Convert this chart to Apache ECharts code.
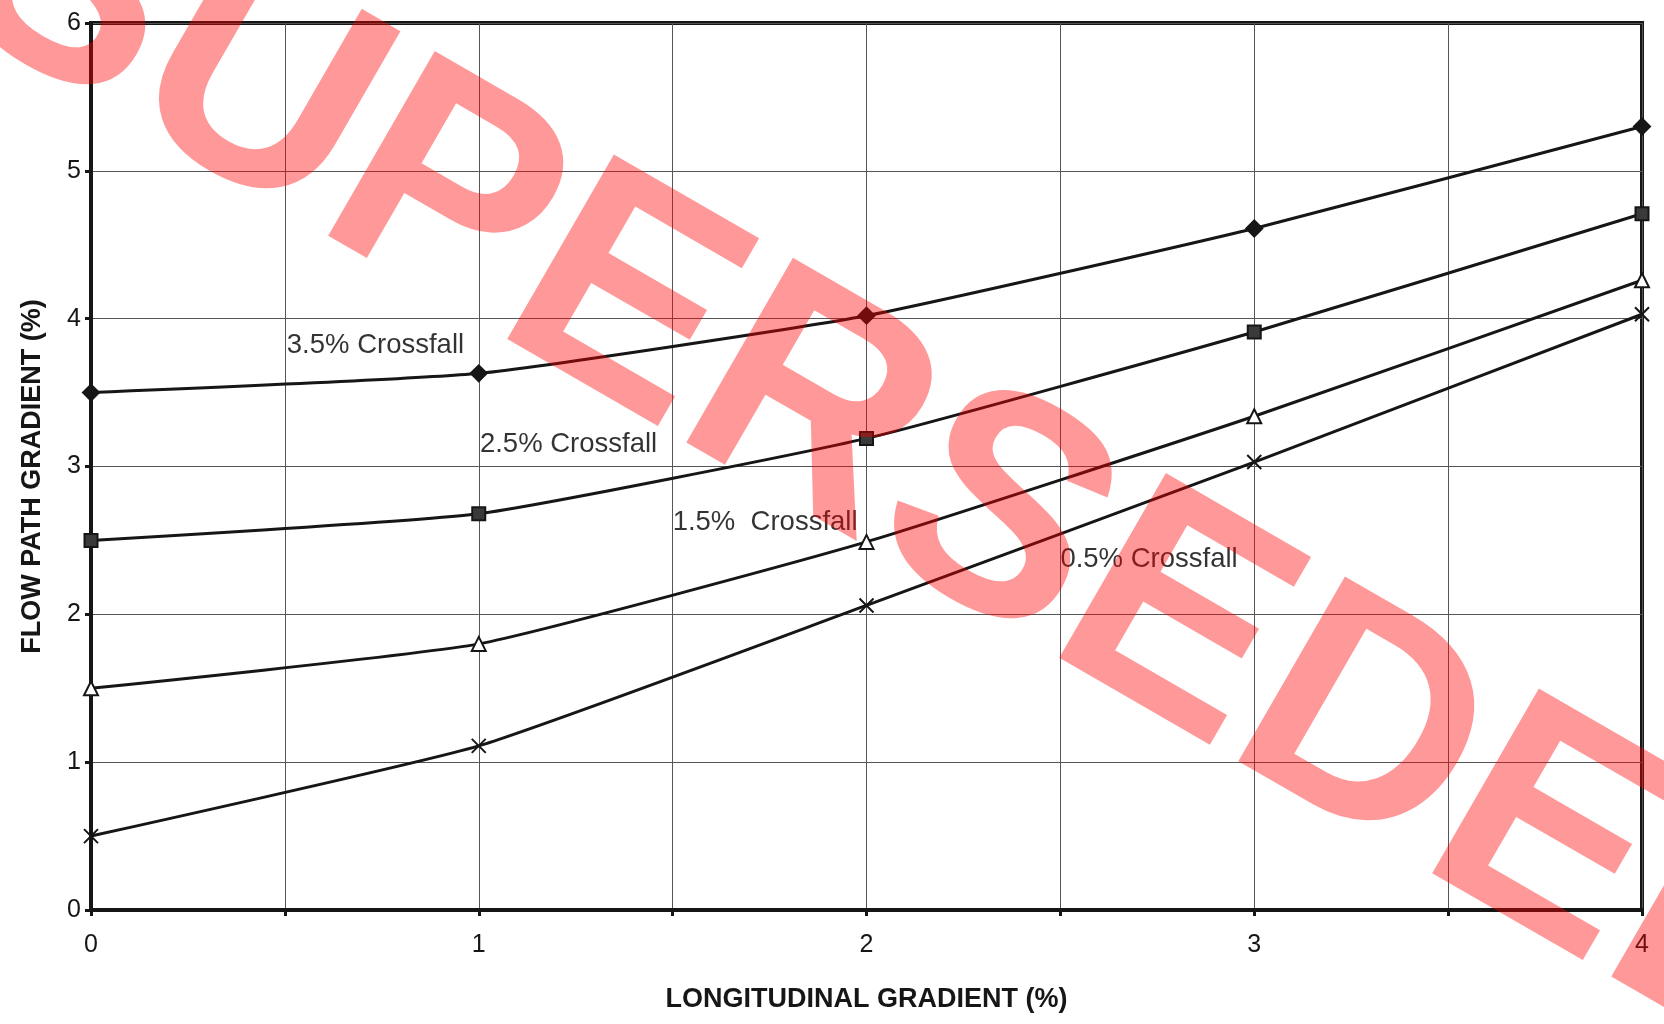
<!DOCTYPE html>
<html>
<head>
<meta charset="utf-8">
<script src="https://cdn.jsdelivr.net/npm/echarts@6/dist/echarts.min.js"></script>
<style>
  html, body { margin: 0; padding: 0; background: #fff; }
  #main { width: 1664px; height: 1024px; }
</style>
</head>
<body>
<div id="main"></div>
<script>
// longitudinal gradient (%)
const xValues = [0, 1, 2, 3, 4]

// flow path gradient (%) per crossfall
const cross35 = [3.50, 3.63, 4.02, 4.61, 5.30]
const cross25 = [2.50, 2.68, 3.19, 3.91, 4.71]
const cross15 = [1.50, 1.80, 2.49, 3.34, 4.26]
const cross05 = [0.50, 1.11, 2.06, 3.03, 4.03]

// in-chart curve labels (anchor = left edge, vertical middle)
const labelText = ['3.5% Crossfall', '2.5% Crossfall', '1.5%  Crossfall', '0.5% Crossfall']
const labelX = [0.505, 1.003, 1.50, 2.50]
const labelY = [3.82, 3.15, 2.62, 2.37]

const FONT = 'Liberation Sans, Arial, sans-serif'
const INK = '#161616'

const pair = (ys) => xValues.map((x, i) => [x, ys[i]])

const lineSeries = (name, ys, symbol, size, fill) => ({
  name: name,
  type: 'line',
  data: pair(ys),
  smooth: 0.15,
  symbol: symbol,
  symbolSize: size,
  lineStyle: { color: INK, width: 3 },
  itemStyle: { color: fill, borderColor: INK, borderWidth: 2 },
  z: 3
})

const chart = echarts.init(document.getElementById('main'))

const option = {
  animation: false,
  backgroundColor: '#fff',
  grid: {
    left: 91,
    right: 22,
    top: 23,
    bottom: 114,
    show: true,
    borderColor: INK,
    borderWidth: 4
  },
  xAxis: {
    type: 'value',
    min: 0,
    max: 4,
    interval: 0.5,
    name: 'LONGITUDINAL GRADIENT (%)',
    nameLocation: 'middle',
    nameGap: 76,
    nameTextStyle: { color: INK, fontFamily: FONT, fontSize: 27, fontWeight: 'bold' },
    axisLine: { lineStyle: { color: INK, width: 4 } },
    axisTick: { show: true, length: 6, lineStyle: { color: INK, width: 3 } },
    axisLabel: {
      color: INK,
      fontFamily: FONT,
      fontSize: 25,
      margin: 23,
      formatter: (v) => (Number.isInteger(v) ? String(v) : '')
    },
    splitLine: { show: true, lineStyle: { color: '#555', width: 1 } }
  },
  yAxis: {
    type: 'value',
    min: 0,
    max: 6,
    interval: 1,
    name: 'FLOW PATH GRADIENT (%)',
    nameLocation: 'middle',
    nameGap: 45,
    nameRotate: 90,
    nameTextStyle: { color: INK, fontFamily: FONT, fontSize: 27, fontWeight: 'bold', padding: [0, 20, 0, 0] },
    axisLine: { show: true, lineStyle: { color: INK, width: 4 } },
    axisTick: { show: true, length: 6, lineStyle: { color: INK, width: 3 } },
    axisLabel: { color: INK, fontFamily: FONT, fontSize: 25, margin: 10 },
    splitLine: { show: true, lineStyle: { color: '#555', width: 1 } }
  },
  series: [
    lineSeries('3.5% Crossfall', cross35, 'diamond', 16, INK),
    lineSeries('2.5% Crossfall', cross25, 'rect', 13, '#3a3a3a'),
    lineSeries('1.5% Crossfall', cross15, 'triangle', 14, '#fff'),
    lineSeries('0.5% Crossfall', cross05, 'path://M0,0L10,10M10,0L0,10', 14, INK),
    {
      name: 'labels',
      type: 'scatter',
      symbolSize: 0,
      data: labelText.map((t, i) => [labelX[i], labelY[i], t]),
      label: {
        show: true,
        position: 'right',
        distance: 0,
        color: '#000',
        fontFamily: FONT,
        fontSize: 27.5,
        formatter: (p) => p.data[2]
      },
      z: 4
    }
  ],
  graphic: [
    {
      type: 'text',
      x: -20,
      y: -64,
      rotation: -Math.PI / 6,
      z: 100,
      style: {
        text: 'SUPERSEDED',
        font: 'bold 310px Liberation Sans, Arial, sans-serif',
        fill: 'rgba(255, 0, 0, 0.4)',
        textAlign: 'left',
        textVerticalAlign: 'middle'
      }
    }
  ]
}

chart.setOption(option)
</script>
</body>
</html>
